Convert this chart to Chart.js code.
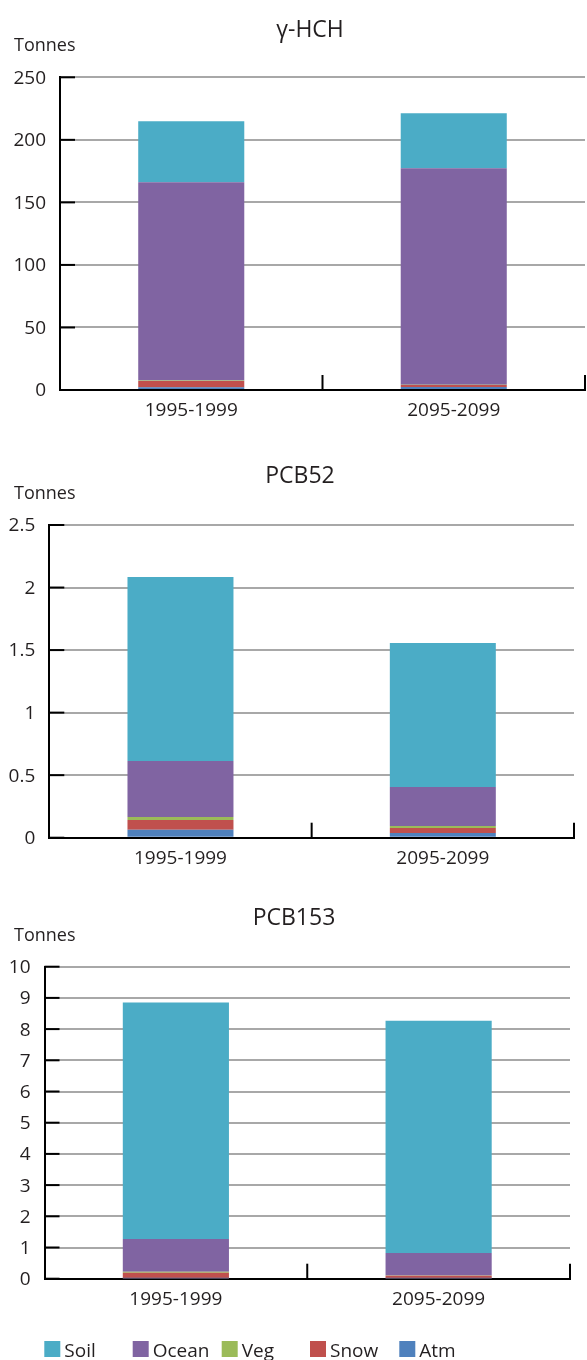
<!DOCTYPE html>
<html>
<head>
<meta charset="utf-8">
<script src="https://cdn.jsdelivr.net/npm/chart.js@4.4.1/dist/chart.umd.min.js"></script>
<style>
html,body{margin:0;padding:0;background:#fff;}
body{width:587px;height:1360px;position:relative;overflow:hidden;}
canvas{position:absolute;left:0;}
</style>
</head>
<body>
<canvas id="c1" width="587" height="430" style="top:0px;width:587px;height:430px"></canvas>
<canvas id="c2" width="587" height="440" style="top:440px;width:587px;height:440px"></canvas>
<canvas id="c3" width="587" height="470" style="top:890px;width:587px;height:470px"></canvas>
<script>
// ---- data ----
const categories = ['1995-1999', '2095-2099'];
const seriesNames = ['Atm', 'Snow', 'Veg', 'Ocean', 'Soil'];
const seriesColors = ['#4f81bd', '#c0504d', '#9bbb59', '#8064a2', '#4bacc6'];
const unitLabel = 'Tonnes';

const hchTitle = 'γ-HCH';
const hchAtm   = [2.2, 2.4];
const hchSnow  = [5.0, 1.6];
const hchVeg   = [0.3, 0.2];
const hchOcean = [158.6, 173.1];
const hchSoil  = [48.8, 43.9];
const hchTicks = { max: 250, step: 50 };

const pcb52Title = 'PCB52';
const pcb52Atm   = [0.064, 0.038];
const pcb52Snow  = [0.078, 0.040];
const pcb52Veg   = [0.023, 0.016];
const pcb52Ocean = [0.448, 0.311];
const pcb52Soil  = [1.471, 1.152];
const pcb52Ticks = { max: 2.5, step: 0.5 };

const pcb153Title = 'PCB153';
const pcb153Atm   = [0.01, 0.005];
const pcb153Snow  = [0.18, 0.09];
const pcb153Veg   = [0.03, 0.005];
const pcb153Ocean = [1.05, 0.72];
const pcb153Soil  = [7.58, 7.45];
const pcb153Ticks = { max: 10, step: 1 };

// ---- styling ----
const FONT = "'Open Sans', 'Noto Sans', sans-serif";
const INK = '#231f20';
Chart.defaults.font.family = FONT;
Chart.defaults.font.size = 19;
Chart.defaults.color = INK;

const decorPlugin = {
  id: 'decor',
  afterDraw(chart, args, o) {
    const ctx = chart.ctx;
    const xs = chart.scales.x, ys = chart.scales.y;
    const area = chart.chartArea;
    ctx.save();
    ctx.strokeStyle = '#000';
    ctx.lineWidth = 2;
    // inner y tick marks
    ys.ticks.forEach(t => {
      const y = ys.getPixelForValue(t.value);
      ctx.beginPath();
      ctx.moveTo(area.left, y);
      ctx.lineTo(area.left + 15, y);
      ctx.stroke();
    });
    // upward category boundary marks
    for (let i = 0; i < chart.data.labels.length; i++) {
      const x = xs.getPixelForValue(i + 0.5);
      ctx.beginPath();
      ctx.moveTo(x, area.bottom);
      ctx.lineTo(x, area.bottom - 15);
      ctx.stroke();
    }
    // title and unit label
    ctx.fillStyle = INK;
    ctx.textBaseline = 'alphabetic';
    ctx.textAlign = 'center';
    ctx.font = '23px ' + FONT;
    ctx.fillText(o.title, o.titleX, o.titleBase);
    ctx.textAlign = 'left';
    ctx.font = '18px ' + FONT;
    ctx.fillText(unitLabel, 14, o.unitBase);
    // legend (optional)
    if (o.legendX) {
      const ds = chart.data.datasets.slice().reverse();
      ctx.font = '19px ' + FONT;
      ds.forEach((d, i) => {
        const bx = o.legendX[i];
        ctx.fillStyle = d.backgroundColor;
        ctx.fillRect(bx, o.legendTop, 16, 16);
        ctx.fillStyle = INK;
        ctx.fillText(d.label, bx + 20, o.legendBase);
      });
    }
    ctx.restore();
  }
};

function makeChart(id, title, vals, ticks, geo, decor) {
  const datasets = seriesNames.map((n, i) => ({
    label: n,
    data: vals[i],
    backgroundColor: seriesColors[i],
    borderWidth: 0,
    barPercentage: 0.404,
    categoryPercentage: 1
  }));
  return new Chart(document.getElementById(id), {
    type: 'bar',
    data: { labels: categories, datasets },
    plugins: [decorPlugin],
    options: {
      responsive: false,
      animation: false,
      layout: { padding: { top: geo.top, right: geo.right, left: 0, bottom: geo.padBottom } },
      plugins: {
        legend: { display: false },
        tooltip: { enabled: false },
        title: { display: false },
        decor: Object.assign({ title }, decor)
      },
      scales: {
        x: {
          stacked: true,
          grid: { display: true, drawOnChartArea: false, drawTicks: false },
          border: { display: true, color: '#000', width: 2 },
          ticks: { padding: 9, color: INK, font: { size: 19 } },
          afterFit(s) { s.height = geo.xHeight; }
        },
        y: {
          stacked: true,
          min: 0,
          max: ticks.max,
          grid: {
            drawTicks: false,
            lineWidth: 2,
            color: c => (c.tick && c.tick.value === 0) ? 'rgba(0,0,0,0)' : '#a8a8a8'
          },
          border: { display: true, color: '#000', width: 2 },
          ticks: {
            stepSize: ticks.step, padding: 14, labelOffset: 1, color: INK, font: { size: 19 },
            callback: v => String(Math.round(v * 100) / 100)
          },
          afterFit(s) { s.width = geo.left; }
        }
      }
    }
  });
}

makeChart('c1', hchTitle, [hchAtm, hchSnow, hchVeg, hchOcean, hchSoil], hchTicks,
  { top: 77.3, right: 2, left: 60, xHeight: 40, padBottom: 0 },
  { titleX: 310, titleBase: 37.3, unitBase: 50.7 });

makeChart('c2', pcb52Title, [pcb52Atm, pcb52Snow, pcb52Veg, pcb52Ocean, pcb52Soil], pcb52Ticks,
  { top: 85, right: 13, left: 49.3, xHeight: 42.3, padBottom: 0 },
  { titleX: 300, titleBase: 43.3, unitBase: 59 });

makeChart('c3', pcb153Title, [pcb153Atm, pcb153Snow, pcb153Veg, pcb153Ocean, pcb153Soil], pcb153Ticks,
  { top: 76.7, right: 17, left: 44.5, xHeight: 40, padBottom: 41.3 },
  { titleX: 294, titleBase: 35, unitBase: 50.7,
    legendX: [44.3, 132.7, 221.7, 310, 399.3], legendTop: 451, legendBase: 467.3 });
</script>
</body>
</html>
